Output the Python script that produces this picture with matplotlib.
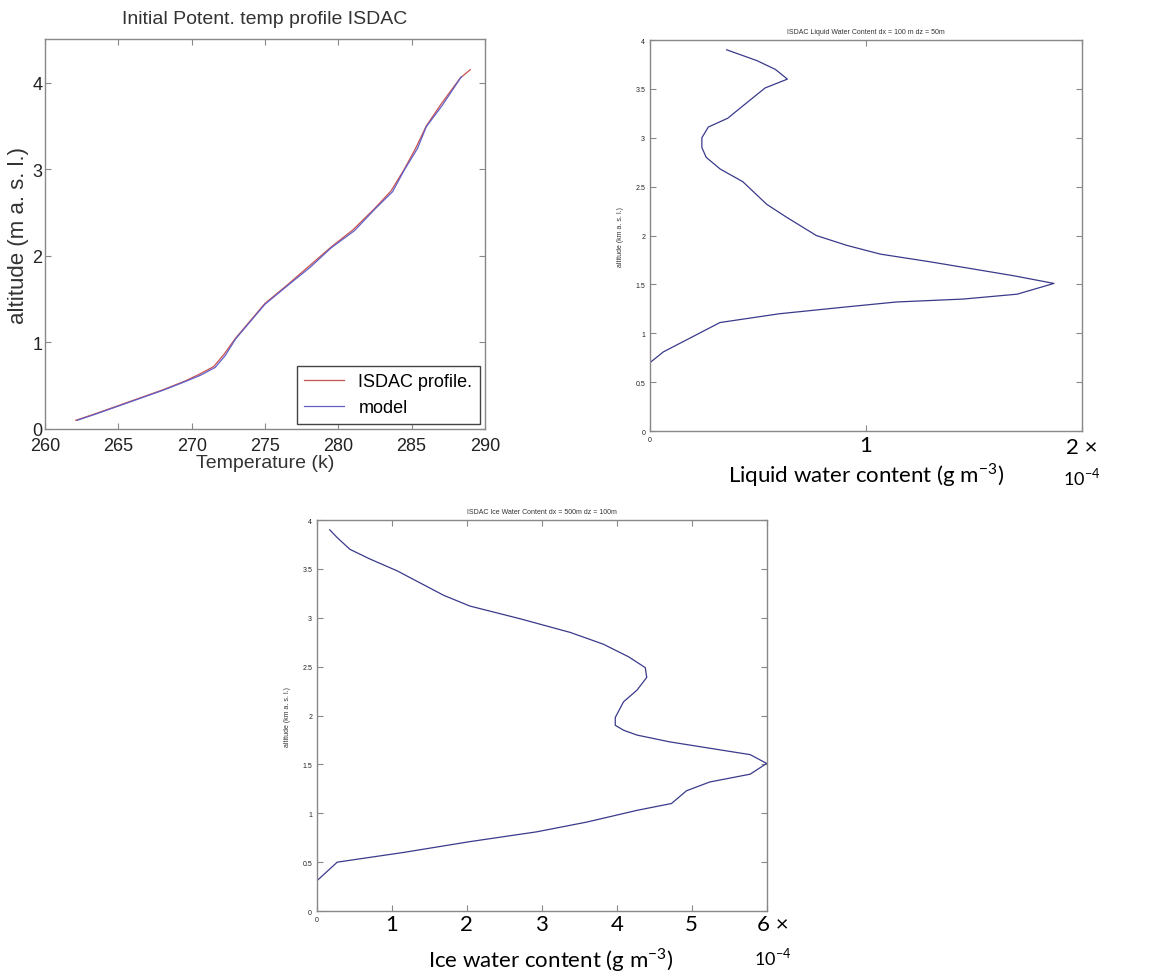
import numpy as np
import matplotlib
matplotlib.use("Agg")
import matplotlib.pyplot as plt

# potential temperature profile (K) vs altitude
isdac_temp = [262.1, 263.5, 265.0, 266.5, 268.0, 269.5, 270.5, 271.5, 272.2, 273.0, 274.0, 275.0,
              276.5, 278.0, 279.5, 281.0, 282.5, 283.6, 284.5, 285.3, 286.0, 287.0, 288.3, 289.0]
isdac_alt = [0.10, 0.18, 0.27, 0.36, 0.45, 0.55, 0.63, 0.72, 0.86, 1.05, 1.25, 1.45,
             1.66, 1.88, 2.10, 2.30, 2.55, 2.75, 3.00, 3.25, 3.50, 3.75, 4.05, 4.15]
model_temp = [262.2, 263.6, 265.1, 266.6, 268.1, 269.6, 270.6, 271.6, 272.3, 273.0, 274.0, 275.0,
              276.5, 278.1, 279.5, 281.1, 282.5, 283.7, 284.5, 285.4, 286.0, 287.1, 288.4]
model_alt = [0.10, 0.18, 0.27, 0.36, 0.45, 0.55, 0.62, 0.71, 0.85, 1.04, 1.24, 1.44,
             1.65, 1.87, 2.09, 2.29, 2.54, 2.74, 2.99, 3.24, 3.49, 3.74, 4.07]

# liquid water content (x1e-4 g m-3)
lwc = [0.355, 0.494, 0.58, 0.636, 0.533, 0.432, 0.36, 0.27, 0.24, 0.24, 0.26, 0.325, 0.43,
       0.54, 0.63, 0.77, 0.91, 1.066, 1.30, 1.68, 1.87, 1.70, 1.45, 1.14, 0.91, 0.60, 0.324,
       0.062, 0.0]
lwc_alt = [3.90, 3.79, 3.70, 3.60, 3.51, 3.33, 3.20, 3.11, 3.00, 2.90, 2.80, 2.68, 2.55,
           2.32, 2.19, 2.00, 1.90, 1.81, 1.73, 1.59, 1.51, 1.40, 1.35, 1.32, 1.27, 1.20, 1.11,
           0.81, 0.70]

# ice water content (x1e-4 g m-3)
iwc = [0.17, 0.27, 0.44, 0.71, 1.07, 1.69, 2.04, 2.71, 3.38, 3.82, 4.16, 4.38, 4.40, 4.27,
       4.09, 3.98, 3.98, 4.09, 4.27, 4.71, 5.78, 6.0, 5.78, 5.24, 4.93, 4.73, 4.27, 3.6, 2.93,
       2.04, 1.16, 0.27, 0.0]
iwc_alt = [3.90, 3.82, 3.70, 3.60, 3.48, 3.23, 3.12, 2.99, 2.85, 2.73, 2.60, 2.49, 2.39, 2.26,
           2.14, 1.98, 1.90, 1.85, 1.80, 1.73, 1.60, 1.51, 1.40, 1.32, 1.23, 1.10, 1.03, 0.91,
           0.81, 0.71, 0.60, 0.50, 0.31]

plt.rcParams['font.family'] = ['Liberation Sans', 'DejaVu Sans']
gray = '#888888'
big_font = ['Lato', 'DejaVu Sans']

def matlab_style(ax, size):
    for s in ax.spines.values():
        s.set_color(gray)
        s.set_linewidth(1.0)
    ax.tick_params(direction='in', top=True, right=True, labelsize=size,
                   color=gray, labelcolor='#222222', length=4)

fig = plt.figure(figsize=(11.56, 9.79), dpi=100)

# panel 1
ax1 = fig.add_axes([0.0389, 0.5608, 0.3806, 0.398])
ax1.plot(isdac_temp, isdac_alt, color='#c85050', lw=0.9, label='ISDAC profile.')
ax1.plot(model_temp, model_alt, color='#6060c8', lw=0.9, label='model')
ax1.set_xlim(260, 290)
ax1.set_ylim(0, 4.5)
ax1.set_xticks(np.arange(260, 291, 5))
ax1.set_yticks([0, 1, 2, 3, 4])
matlab_style(ax1, 13)
ax1.tick_params(axis='y', pad=2)
ax1.tick_params(axis='x', pad=6)
ax1.set_title('Initial Potent. temp profile ISDAC', fontsize=14, color='#333333', pad=12)
ax1.set_xlabel('Temperature (k)', fontsize=14, color='#333333', labelpad=0)
ax1.set_ylabel('altitude (m a. s. l.)', fontsize=16, color='#333333', labelpad=2)
leg = ax1.legend(loc='lower right', fontsize=13, fancybox=False, borderaxespad=0.3,
                 handlelength=2.2, framealpha=1)
leg.get_frame().set_edgecolor('#444444')

# panel 2
ax2 = fig.add_axes([0.5623, 0.5587, 0.3737, 0.3994])
ax2.plot(np.array(lwc) * 1e-4, lwc_alt, color='#3a3a8c', lw=0.9)
ax2.set_xlim(0, 2e-4)
ax2.set_ylim(0, 4)
ax2.set_xticks([0, 1e-4, 2e-4])
ax2.set_xticklabels(['0', '', ''])
ax2.set_yticks(np.arange(0, 4.01, 0.5))
ax2.set_yticklabels(['0', '0.5', '1', '1.5', '2', '2.5', '3', '3.5', '4'])
matlab_style(ax2, 5)
ax2.set_title('ISDAC Liquid Water Content dx = 100 m dz = 50m', fontsize=5, color='#333333', pad=5)
ax2.set_ylabel('altitude (km a. s. l.)', fontsize=5, color='#333333', labelpad=8)
xt2 = ax2.get_xaxis_transform()
ax2.text(1e-4, -0.035, '1', transform=xt2, ha='center', va='center', fontsize=16, family=big_font)
ax2.text(2e-4, -0.042, '2 \u00d7', transform=xt2, ha='center', va='center', fontsize=16, family=big_font)
ax2.text(2e-4, -0.115, '10$^{\\mathregular{-4}}$', transform=xt2, ha='center', va='center',
         fontsize=13, family=big_font)
ax2.text(0.5, -0.11, 'Liquid water content (g m$^{\\mathregular{-3}}$)', transform=ax2.transAxes,
         ha='center', va='center', fontsize=16, family=big_font)

# panel 3
ax3 = fig.add_axes([0.2742, 0.0684, 0.389, 0.3994])
ax3.plot(np.array(iwc) * 1e-4, iwc_alt, color='#3a3a8c', lw=0.9)
ax3.set_xlim(0, 6e-4)
ax3.set_ylim(0, 4)
ax3.set_xticks(np.arange(0, 6.01, 1) * 1e-4)
ax3.set_xticklabels(['0', '', '', '', '', '', ''])
ax3.set_yticks(np.arange(0, 4.01, 0.5))
ax3.set_yticklabels(['0', '0.5', '1', '1.5', '2', '2.5', '3', '3.5', '4'])
matlab_style(ax3, 5)
ax3.set_title('ISDAC Ice Water Content dx = 500m dz = 100m', fontsize=5, color='#333333', pad=5)
ax3.set_ylabel('altitude (km a. s. l.)', fontsize=5, color='#333333', labelpad=8)
xt3 = ax3.get_xaxis_transform()
for v, lab in zip(range(1, 7), ['1', '2', '3', '4', '5', '6 \u00d7']):
    xpos = v * 1e-4 if v < 6 else 6.08e-4
    ax3.text(xpos, -0.033, lab, transform=xt3, ha='center', va='center',
             fontsize=16, family=big_font)
ax3.text(6.08e-4, -0.115, '10$^{\\mathregular{-4}}$', transform=xt3, ha='center', va='center',
         fontsize=13, family=big_font)
ax3.text(0.52, -0.123, 'Ice water content (g m$^{\\mathregular{-3}}$)', transform=ax3.transAxes,
         ha='center', va='center', fontsize=16, family=big_font)

fig.savefig('out.png', dpi=100)
